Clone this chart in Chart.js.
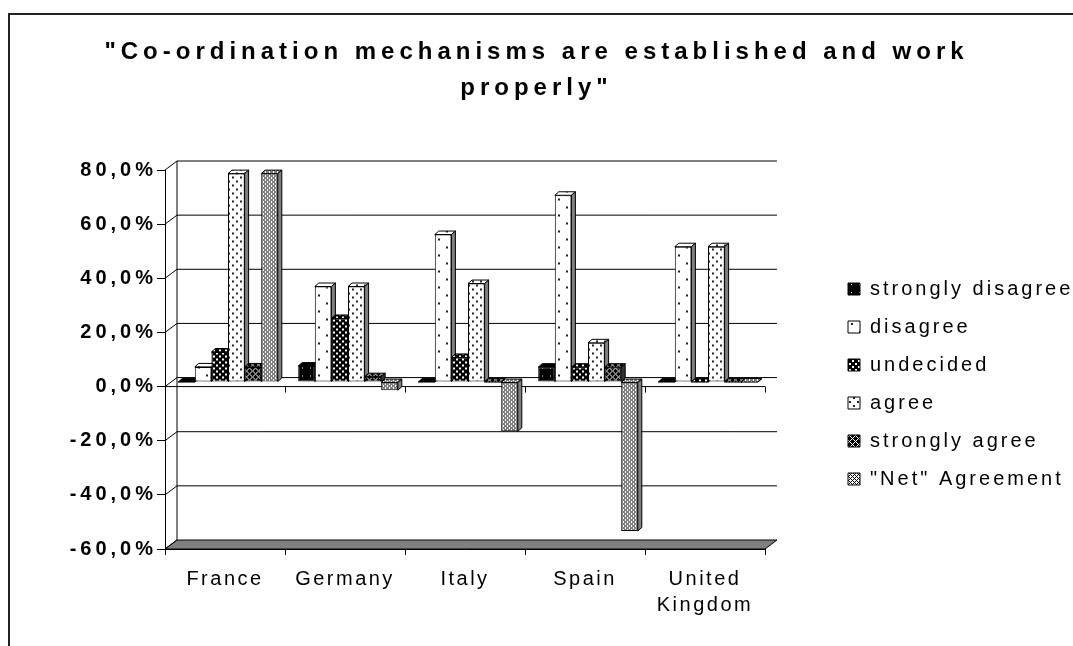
<!DOCTYPE html>
<html>
<head>
<meta charset="utf-8">
<title>Co-ordination mechanisms</title>
<script src="https://cdn.jsdelivr.net/npm/chart.js@4.4.1/dist/chart.umd.min.js"></script>
<style>
  html, body { margin: 0; padding: 0; background: #fff; }
  #wrap { position: relative; width: 1073px; height: 646px; overflow: hidden; }
  #frame { position: absolute; left: 8px; top: 13px; right: -10px; bottom: -10px;
           border-top: 2px solid #222; border-left: 2px solid #222; }
  canvas { position: absolute; left: 0; top: 0; }
</style>
</head>
<body>
<div id="wrap">
  <div id="frame"></div>
  <canvas id="chart" width="1073" height="646"></canvas>
</div>
<script>
const categories = ["France", "Germany", "Italy", "Spain", ["United", "Kingdom"]];
const seriesNames = ["strongly disagree", "disagree", "undecided", "agree", "strongly agree", "\"Net\" Agreement"];

// values in percent
const stronglyDisagree = [0, 5.9, 0, 5.5, 0];
const disagree = [5.6, 35.3, 54.5, 69.0, 50.0];
const undecided = [11.1, 23.5, 9.1, 5.5, 0];
const agree = [77.0, 35.3, 36.4, 14.5, 50.0];
const stronglyAgree = [5.6, 2.0, 0, 5.5, 0];
const netAgreement = [77.0, -3.0, -18.2, -55.0, 0];

const yMin = -60;
const yMax = 80;
const yStep = 20;

const FONT = "Arial, 'Liberation Sans', sans-serif";
const WALL = { x: 12, y: -9 };   // depth of the back wall
const SHIFT = { x: 3, y: -4.5 }; // bars sit half way back
const BAR = { x: 4, y: -3.5 };   // depth of each bar

const canvas = document.getElementById("chart");
const ctx = canvas.getContext("2d");

// Excel-like black & white fill patterns built from tiny tiles.
function makePattern(w, h, bg, fg, paint) {
  const tile = document.createElement("canvas");
  tile.width = w;
  tile.height = h;
  const g = tile.getContext("2d");
  g.fillStyle = bg;
  g.fillRect(0, 0, w, h);
  g.fillStyle = fg;
  paint(g);
  return ctx.createPattern(tile, "repeat");
}

function lattice(g, n) {
  for (let y = 0; y < n; y++) {
    for (let x = 0; x < n; x++) {
      if ((x + y) % n === 0 || (x - y + n) % n === 0) g.fillRect(x, y, 1, 1);
    }
  }
}

const fills = [
  makePattern(8, 8, "#000", "#fff", (g) => g.fillRect(3, 4, 1, 1)),
  makePattern(16, 16, "#fff", "#222", (g) => { g.fillRect(3, 3, 2, 2); g.fillRect(11, 11, 2, 2); }),
  makePattern(6, 6, "#000", "#fff", (g) => { g.fillRect(0, 0, 2, 2); g.fillRect(3, 3, 2, 2); }),
  makePattern(8, 8, "#fff", "#222", (g) => { g.fillRect(1, 1, 2, 2); g.fillRect(5, 5, 2, 2); }),
  makePattern(6, 6, "#000", "#fff", (g) => lattice(g, 6)),
  makePattern(4, 4, "#fff", "#000", (g) => lattice(g, 4)),
];
const sideColors = ["#000", "#808080", "#111", "#808080", "#333", "#808080"];

const seriesData = [stronglyDisagree, disagree, undecided, agree, stronglyAgree, netAgreement];

function poly(c, pts, fill) {
  c.beginPath();
  c.moveTo(pts[0][0], pts[0][1]);
  for (let i = 1; i < pts.length; i++) c.lineTo(pts[i][0], pts[i][1]);
  c.closePath();
  c.fillStyle = fill;
  c.fill();
  c.stroke();
}

// The source chart was spaced out letter by letter, so give each box its own spacing.
function withSpacing(box, px) {
  if (!box || box._spaced) return;
  const draw = box.draw;
  box.draw = function (...args) {
    const c = this.ctx;
    const prev = c.letterSpacing;
    c.letterSpacing = px;
    draw.apply(this, args);
    c.letterSpacing = prev;
  };
  box._spaced = true;
}

// Fakes the 3-D look: back wall, floor, and depth faces on each bar.
const pseudo3d = {
  id: "pseudo3d",
  beforeInit(chart) {
    const legend = chart.legend;
    const baseFit = Object.getPrototypeOf(legend).fit;
    legend.fit = function () {
      baseFit.call(this);
      this.width = 308;
    };
  },
  beforeUpdate(chart) {
    chart.ctx.letterSpacing = "3px";
  },
  beforeLayout(chart) {
    withSpacing(chart.titleBlock, "5px");
    withSpacing(chart.scales.y, "4px");
    withSpacing(chart.scales.x, "2.5px");
  },
  afterLayout(chart) {
    const legend = chart.legend;
    const pad = legend.options.labels.padding;
    legend.left = 848 - pad;
    legend.right = legend.left + legend.width;
    legend.top = 279 - pad;
  },
  beforeDraw(chart) {
    chart.ctx.letterSpacing = "3px";
  },
  beforeDatasetsDraw(chart) {
    const c = chart.ctx;
    const area = chart.chartArea;
    const yScale = chart.scales.y;
    const n = categories.length;
    const step = (area.right - area.left) / n;

    c.save();
    c.letterSpacing = "0px";
    c.strokeStyle = "#000";
    c.lineWidth = 1;

    // floor
    poly(c, [
      [area.left, area.bottom], [area.right, area.bottom],
      [area.right + WALL.x, area.bottom + WALL.y], [area.left + WALL.x, area.bottom + WALL.y],
    ], "#808080");

    // back wall grid and side wall ticks
    c.beginPath();
    for (let v = yMin; v <= yMax; v += yStep) {
      const py = yScale.getPixelForValue(v);
      c.moveTo(area.left, py);
      c.lineTo(area.left + WALL.x, py + WALL.y);
      if (v > yMin) {
        c.moveTo(area.left + WALL.x, py + WALL.y);
        c.lineTo(area.right + WALL.x, py + WALL.y);
      }
    }
    c.moveTo(area.left + WALL.x, area.top + WALL.y);
    c.lineTo(area.left + WALL.x, area.bottom + WALL.y);
    // category axis at zero on the front plane
    const y0 = yScale.getPixelForValue(0);
    c.moveTo(area.left, y0);
    c.lineTo(area.right, y0);
    for (let i = 0; i <= n; i++) {
      const px = Math.round(area.left + i * step) + 0.5;
      c.moveTo(px, y0);
      c.lineTo(px, y0 + 6);
    }
    c.stroke();

    // bars, left to right, each with a top and a side face
    c.translate(SHIFT.x, SHIFT.y);
    chart.data.datasets.forEach((ds, i) => {
      const meta = chart.getDatasetMeta(i);
      meta.data.forEach((bar) => {
        const { x, y, base, width } = bar.getProps(["x", "y", "base", "width"], true);
        const l = x - width / 2;
        const r = x + width / 2;
        const t = Math.min(y, base);
        const b = Math.max(y, base);
        bar.draw(c);
        c.strokeStyle = "#000";
        c.lineWidth = 1;
        poly(c, [[l, t], [l + BAR.x, t + BAR.y], [r + BAR.x, t + BAR.y], [r, t]], ds.backgroundColor);
        poly(c, [[r, t], [r + BAR.x, t + BAR.y], [r + BAR.x, b + BAR.y], [r, b]], sideColors[i]);
      });
    });
    c.restore();
    return false;
  },
};

const datasets = seriesNames.map((name, i) => ({
  label: name,
  data: seriesData[i],
  backgroundColor: fills[i],
  borderColor: "#000",
  borderWidth: 1,
  borderSkipped: false,
  categoryPercentage: 0.83,
  barPercentage: 1.0,
}));

new Chart(ctx, {
  type: "bar",
  data: {
    labels: categories,
    datasets: datasets,
  },
  options: {
    responsive: false,
    animation: false,
    devicePixelRatio: 1,
    layout: { padding: 0 },
    plugins: {
      title: {
        display: true,
        text: ["\"Co-ordination mechanisms are established and work", "properly\""],
        color: "#000",
        font: { family: FONT, size: 24, weight: "bold", lineHeight: 36 / 24 },
        padding: { top: 34, bottom: 64 },
      },
      legend: {
        position: "right",
        align: "start",
        labels: {
          color: "#000",
          boxWidth: 12,
          boxHeight: 12,
          padding: 18,
          font: { family: FONT, size: 20 },
          sort: (a, b) => a.datasetIndex - b.datasetIndex,
        },
      },
      tooltip: { enabled: false },
    },
    scales: {
      x: {
        offset: true,
        afterFit: (scale) => { scale.height = 97; },
        grid: { drawOnChartArea: false, drawTicks: true, tickLength: 6, color: "#000", offset: true },
        border: { display: true, color: "#000" },
        ticks: {
          color: "#000",
          padding: 11,
          maxRotation: 0,
          autoSkip: false,
          font: { family: FONT, size: 20, lineHeight: 1.3 },
        },
      },
      y: {
        min: yMin,
        max: yMax,
        afterFit: (scale) => { scale.width = 165; },
        grid: { drawOnChartArea: false, drawTicks: true, tickLength: 8, color: "#000" },
        border: { display: true, color: "#000" },
        ticks: {
          stepSize: yStep,
          color: "#000",
          padding: 0,
          font: { family: FONT, size: 20, weight: "bold" },
          callback: (v) => v.toFixed(1).replace(".", ",") + "%",
        },
      },
    },
  },
  plugins: [pseudo3d],
});
</script>
</body>
</html>
